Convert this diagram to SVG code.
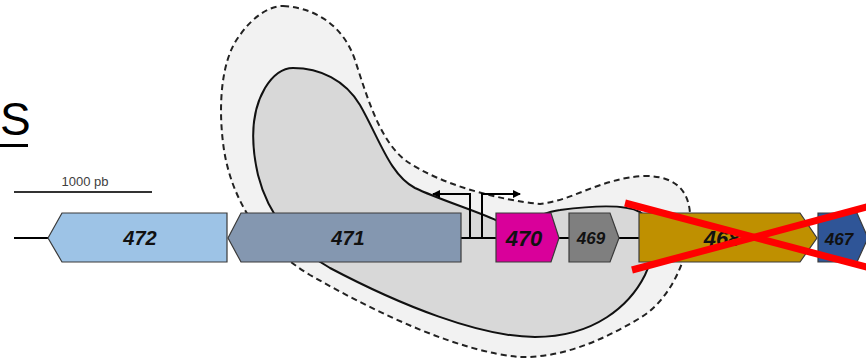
<svg xmlns="http://www.w3.org/2000/svg" width="866" height="361" viewBox="0 0 866 361">
<style>
.gene{stroke:#3a3a3a;stroke-width:1.2}
.lbl{font-family:"Liberation Sans",Arial,sans-serif;font-weight:bold;font-style:italic;text-anchor:middle;fill:#111}
.wire{stroke:#000;stroke-width:2;fill:none}
</style>
<defs>
<marker id="ah" markerWidth="8" markerHeight="8" refX="7" refY="4" orient="auto" markerUnits="userSpaceOnUse">
<path d="M0,0 L8,4 L0,8 Z" fill="#000"/>
</marker>
</defs>
<rect width="866" height="361" fill="#fff"/>
<g id="regions">
<path id="outer" d="M283,6 C320,8 345,30 355,60 C368,100 380,140 405,160 C440,185 500,200 540,204 C575,200 600,178 645,176 C680,176 692,195 690,225 C688,260 670,300 640,318 C600,342 560,358 520,357 C460,352 380,315 310,275 C260,245 232,200 224,150 C218,110 220,60 240,35 C252,18 268,6 283,6 Z" fill="#f2f2f2" stroke="#222" stroke-width="2" stroke-dasharray="6,4"/>
<path id="inner" d="M293,68 C320,68 345,80 360,105 C380,140 390,175 415,188 C440,200 480,212 500,222 C530,225 540,212 560,210 C590,206 625,204 640,212 C660,225 655,255 645,275 C630,305 595,337 535,337 C480,337 400,305 330,268 C295,248 268,215 258,175 C250,140 252,110 265,88 C273,75 283,68 293,68 Z" fill="#d8d8d8" stroke="#111" stroke-width="2"/>
</g>
<g id="connectors">
<line class="wire" x1="14" y1="238" x2="48" y2="238"/>
<line class="wire" x1="461" y1="238" x2="496" y2="238"/>
<line class="wire" x1="559" y1="238" x2="569" y2="238"/>
<line class="wire" x1="619" y1="238" x2="639" y2="238"/>
<path class="wire" d="M470,238 V194 H433" marker-end="url(#ah)"/>
<path class="wire" d="M482,238 V194 H520" marker-end="url(#ah)"/>
</g>
<g id="g472"><polygon class="gene" points="48,238 62,213 227,213 227,262 62,262" fill="#9dc3e6"/><text class="lbl" x="140" y="245" font-size="20">472</text></g>
<g id="g471"><polygon class="gene" points="228,238 241,213 461,213 461,262 241,262" fill="#8497b0"/><text class="lbl" x="348" y="245" font-size="20">471</text></g>
<g id="g470"><polygon class="gene" points="496,213 551,213 559,238 551,262 496,262" fill="#d9009a"/><text class="lbl" x="524" y="246" font-size="22">470</text></g>
<g id="g469"><polygon class="gene" points="569,213 610,213 619,238 610,262 569,262" fill="#7f7f7f"/><text class="lbl" x="591" y="244" font-size="17">469</text></g>
<g id="g468"><polygon class="gene" points="639,213 800,213 817,238 800,262 639,262" fill="#bf9000"/><text class="lbl" x="722" y="246" font-size="22">468</text></g>
<g id="g467"><polygon class="gene" points="818,213 857,213 868,238 857,262 818,262" fill="#2f5597"/><text class="lbl" x="839" y="245" font-size="17">467</text></g>
<g id="cross" stroke="#ff0000" stroke-width="7">
<line x1="625" y1="203" x2="870" y2="268"/>
<line x1="632" y1="270" x2="870" y2="206"/>
</g>
<g id="title">
<text x="0" y="135" font-family="Liberation Sans, Arial, sans-serif" font-size="46" fill="#000">S</text>
<rect x="0" y="144" width="28" height="3" fill="#000"/>
</g>
<g id="scale">
<line x1="14" y1="192" x2="152" y2="192" stroke="#333" stroke-width="2"/>
<text x="85" y="186" font-family="Liberation Sans, Arial, sans-serif" font-size="13" fill="#404040" text-anchor="middle">1000 pb</text>
</g>
</svg>
